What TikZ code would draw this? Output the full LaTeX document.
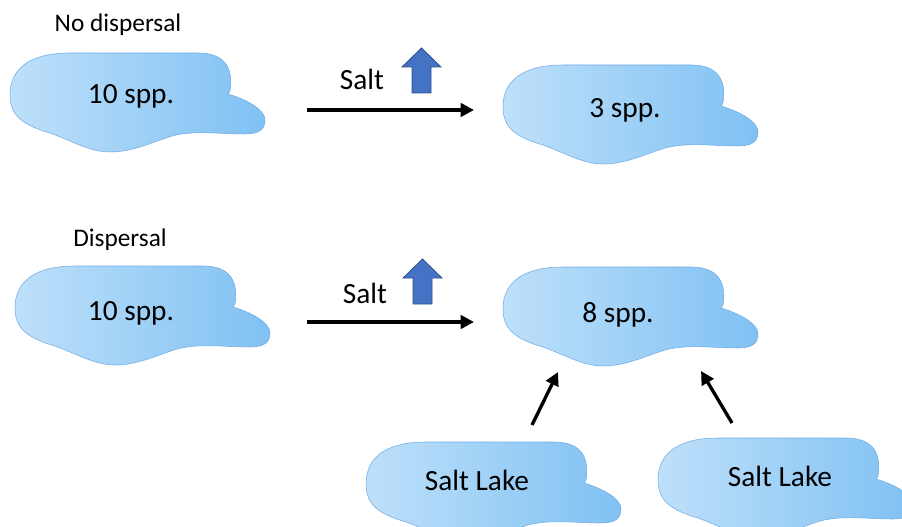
\documentclass[tikz,border=0pt]{standalone}
\usepackage{fontspec}
\setmainfont{Carlito}
\usetikzlibrary{arrows.meta}

\definecolor{lakeleft}{RGB}{190,224,250}
\definecolor{lakeright}{RGB}{128,193,243}
\definecolor{lakeedge}{RGB}{112,172,228}
\definecolor{saltblue}{RGB}{68,114,196}
\definecolor{saltedge}{RGB}{47,82,143}

\tikzset{
  lake/.pic={% blob, origin at its top left corner
    \shadedraw[left color=lakeleft,right color=lakeright,draw=lakeedge,line width=0.4pt]
      (0,42) .. controls (0,14) and (22,0) .. (60,0)
      -- (188,0)
      .. controls (212,0) and (224,12) .. (220,38)
      -- (218,41)
      .. controls (238,47) and (255,57) .. (255,67)
      .. controls (255,78) and (247,81) .. (234,81)
      .. controls (210,81) and (185,77) .. (162,83)
      .. controls (140,90) and (122,99) .. (100,99)
      .. controls (80,99) and (62,88) .. (40,80)
      .. controls (12,72) and (0,62) .. (0,42) -- cycle;
  },
  saltarrow/.pic={% up arrow, origin at bottom left of the shaft
    \filldraw[fill=saltblue,draw=saltedge,line width=0.6pt]
      (0,0) -- (0,-26) -- (-10,-26) -- (9.5,-45) -- (29,-26) -- (19,-26) -- (19,0) -- cycle;
  },
  flow/.style={line width=2.5pt,-{Triangle[length=10pt,width=10pt]}},
  spp/.style={anchor=base,inner sep=0pt,font=\fontsize{22}{26}\selectfont},
  head/.style={anchor=base,inner sep=0pt,font=\fontsize{19}{23}\selectfont}
}

\begin{document}
\begin{tikzpicture}[x=0.75pt,y=-0.75pt]
   \useasboundingbox (0,0) rectangle (902,527);
   \clip (0,0) rectangle (902,527);
   % lakes
   \pic at (10,53) {lake};
   \pic at (503,65) {lake};
   \pic at (15,266) {lake};
   \pic at (503,267) {lake};
   \pic at (366,442) {lake};
   \pic at (658,438) {lake};
   % salt goes up
   \pic at (412,93) {saltarrow};
   \pic at (413,304) {saltarrow};
   % labels
   \node[head] (nodisp) at (118,32) {No dispersal};
   \node[head] (disp) at (120,247) {Dispersal};
   \node[spp] (salta) at (362,90) {Salt};
   \node[spp] (saltb) at (365,303) {Salt};
   \node[spp] (before1) at (131,104) {10 spp.};
   \node[spp] (after1) at (625,118) {3 spp.};
   \node[spp] (before2) at (131,320) {10 spp.};
   \node[spp] (after2) at (618,322) {8 spp.};
   \node[spp] (lakea) at (477,490) {Salt Lake};
   \node[spp] (lakeb) at (780,486) {Salt Lake};
   % arrows
   \coordinate (s1) at (307,110);
   \coordinate (e1) at (474,110);
   \coordinate (s2) at (307,322);
   \coordinate (e2) at (474,322);
   \coordinate (s3) at (532,425);
   \coordinate (e3) at (558,372);
   \coordinate (s4) at (732,423);
   \coordinate (e4) at (701,371);
   \draw[flow] (s1) -- (e1);
   \draw[flow] (s2) -- (e2);
   \draw[flow] (s3) -- (e3);
   \draw[flow] (s4) -- (e4);
\end{tikzpicture}
\end{document}
